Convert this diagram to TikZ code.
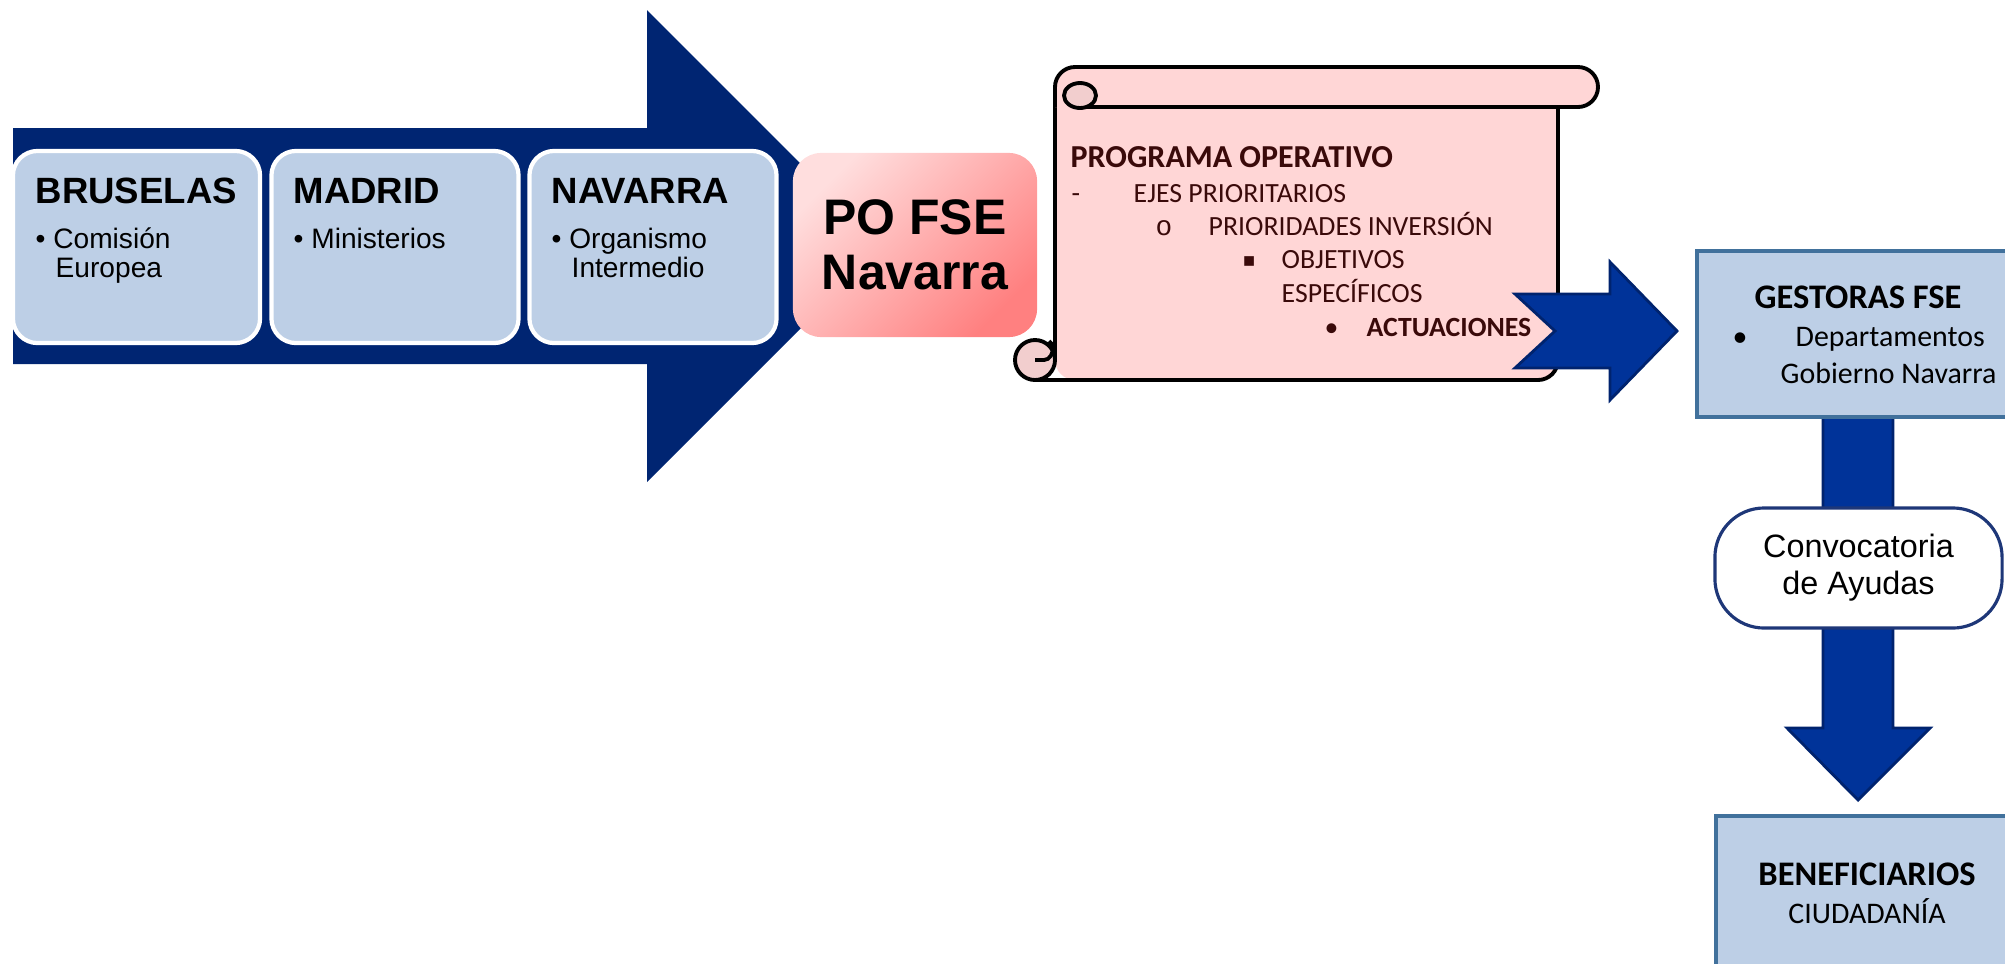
\documentclass[tikz,border=0pt]{standalone}
\usepackage{fontspec}
\setmainfont{Liberation Sans}
\setmonofont{Liberation Mono}
\newfontfamily\calib{Carlito}
\newfontfamily\dejavu{DejaVu Sans}
\usepackage{tikz}
\usetikzlibrary{calc, positioning}

\definecolor{navyarrow}{RGB}{0,37,114}
\definecolor{boxblue}{RGB}{189,207,230}
\definecolor{pinklight}{RGB}{255,222,222}
\definecolor{pinkdark}{RGB}{255,128,128}
\definecolor{scrollpink}{RGB}{255,214,214}
\definecolor{curlpink}{RGB}{242,206,206}
\definecolor{arrowblue}{RGB}{0,51,153}
\definecolor{arrowedge}{RGB}{0,35,110}
\definecolor{steel}{RGB}{65,113,156}
\definecolor{convedge}{RGB}{30,55,120}
\definecolor{maroon}{RGB}{58,10,10}

\begin{document}
\begin{tikzpicture}[x=0.01cm, y=-0.01cm, every node/.style={inner sep=0pt},
    citybox/.style={draw=white, line width=1.2pt, fill=boxblue, rounded corners=7pt,
        minimum width=2.47cm, minimum height=1.92cm},
    cityhead/.style={anchor=base west, font=\fontsize{10.4}{12}\selectfont\bfseries},
    citytxt/.style={anchor=base west, font=\fontsize{8}{9}\selectfont},
    scrolltxt/.style={anchor=base west, text=maroon, font=\calib\fontsize{7.9}{9.5}\selectfont},
    scrollline/.style={draw=black, line width=1.1pt, line join=round},
    bluearrow/.style={fill=arrowblue, draw=arrowedge, line width=0.8pt},
    greybox/.style={draw=steel, line width=0.9pt, fill=boxblue},
    gesttxt/.style={font=\calib\fontsize{8.5}{10}\selectfont}]
    \useasboundingbox (0,0) rectangle (2005,963);
    \clip (0,0) rectangle (2005,963);

    % big arrow behind the three places
    \fill[navyarrow] (13,128) -- (647,128) -- (647,10) -- (883,246) -- (647,482)
        -- (647,364) -- (13,364) -- cycle;

    \node[citybox] (bru) at (136.5,247) {};
    \node[citybox] (mad) at (395,247) {};
    \node[citybox] (nav) at (653,247) {};

    \node[cityhead] (bruT) at (35,203) {BRUSELAS};
    \node[citytxt] (bruA) at (35,248) {\textbullet~Comisión};
    \node[citytxt] (bruB) at (55,277) {Europea};

    \node[cityhead] (madT) at (293,203) {MADRID};
    \node[citytxt] (madA) at (293,248) {\textbullet~Ministerios};

    \node[cityhead] (navT) at (551,203) {NAVARRA};
    \node[citytxt] (navA) at (551,248) {\textbullet~Organismo};
    \node[citytxt] (navB) at (571,277) {Intermedio};

    % PO FSE
    \node[rounded corners=8pt, minimum width=2.44cm, minimum height=1.84cm,
        top color=pinklight, bottom color=pinkdark, shading angle=45, align=center,
        font=\fontsize{14.2}{15.6}\selectfont\bfseries] (po) at (915,245) {PO FSE\\Navarra};

    % scroll
    \fill[scrollpink, rounded corners=0.2cm] (1055,87) -- (1558,87) -- (1558,380) -- (1055,380) -- cycle;
    \draw[scrollline] (1055,107) -- (1055,360);
    \draw[scrollline, rounded corners=0.2cm] (1035,380) -- (1558,380) -- (1558,107);
    \filldraw[scrollline, fill=scrollpink, rounded corners=0.2cm] (1055,107) -- (1055,67)
        -- (1598,67) -- (1598,107) -- (1080,107);
    \filldraw[scrollline, fill=curlpink] (1080,95.5) ellipse [x radius=16, y radius=12.5];
    \filldraw[scrollline, fill=curlpink] (1035,360) circle [radius=20];
    \draw[scrollline] (1035,360) -- (1044,360) .. controls (1050,360) and (1053,353) .. (1053,348)
        .. controls (1053,345) and (1051,342) .. (1049,341);

    \node[scrolltxt, font=\calib\bfseries\fontsize{9.1}{11}\selectfont] (hdr) at (1070,167) {PROGRAMA OPERATIVO};
    \node[scrolltxt] (dash) at (1071,202) {-};
    \node[scrolltxt] (ejes) at (1133,202) {EJES PRIORITARIOS};
    \node[scrolltxt, font=\ttfamily\fontsize{7.9}{9.5}\selectfont] (circ) at (1155,235) {o};
    \node[scrolltxt] (prio) at (1208,235) {PRIORIDADES INVERSIÓN};
    \node[scrolltxt, font=\dejavu\fontsize{5.5}{7}\selectfont] (sq) at (1242,266) {▪};
    \node[scrolltxt] (obj) at (1281,268) {OBJETIVOS};
    \node[scrolltxt] (esp) at (1281,302) {ESPECÍFICOS};
    \node[scrolltxt] (dot) at (1324,336) {\textbullet};
    \node[scrolltxt, font=\calib\bfseries\fontsize{7.9}{9.5}\selectfont] (act) at (1366,336) {ACTUACIONES};

    % notched arrow to the managers
    \filldraw[bluearrow] (1515,294) -- (1610,294) -- (1610,262) -- (1677,331) -- (1610,400)
        -- (1610,368) -- (1515,368) -- (1555,331) -- cycle;

    % down arrow
    \filldraw[bluearrow] (1823,417) -- (1893,417) -- (1893,728) -- (1930,728) -- (1858,800)
        -- (1787,728) -- (1823,728) -- cycle;

    \node[greybox, minimum width=3.22cm, minimum height=1.66cm] (gest) at (1858,334) {};
    \node[anchor=base, font=\calib\bfseries\fontsize{9.8}{12}\selectfont] (gestT) at (1858,308) {GESTORAS FSE};
    \node[gesttxt, anchor=base west] (gestD) at (1732,346) {\textbullet};
    \node[gesttxt, anchor=base west] (gestA) at (1795,346) {Departamentos};
    \node[gesttxt, anchor=base west] (gestB) at (1780,383) {Gobierno Navarra};

    \node[draw=convedge, line width=0.9pt, fill=white, rounded corners=14pt,
        minimum width=2.87cm, minimum height=1.2cm, align=center,
        font=\fontsize{9.2}{10.5}\selectfont] (conv) at (1858.5,568) {Convocatoria\\de Ayudas};

    \node[greybox, minimum width=3.02cm, minimum height=1.74cm] (benef) at (1867,903) {};
    \node[anchor=base, font=\calib\bfseries\fontsize{9.8}{12}\selectfont] (benefT) at (1867,885) {BENEFICIARIOS};
    \node[anchor=base, gesttxt] (benefC) at (1867,923) {CIUDADANÍA};
\end{tikzpicture}
\end{document}
